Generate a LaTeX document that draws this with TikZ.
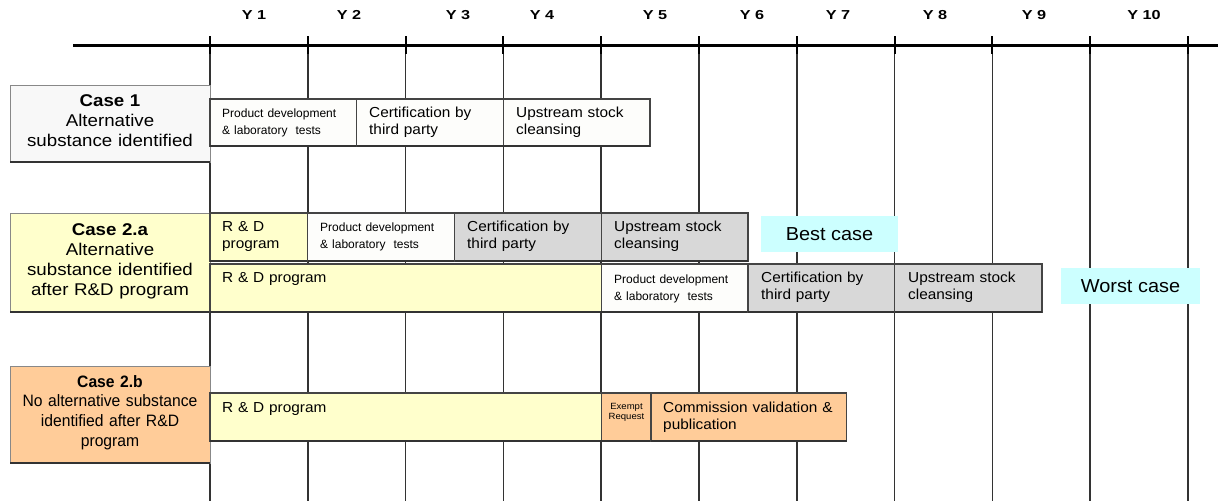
\documentclass[tikz,border=0pt]{standalone}
\usepackage{fontspec}
\setmainfont{Liberation Sans}
\newfontfamily\lblfont{Liberation Sans}[FakeStretch=1.1]
\newfontfamily\lblnarrow{Liberation Sans}[FakeStretch=0.95]
\newfontfamily\yrfont{Liberation Sans}[FakeStretch=1.25]
\newfontfamily\boxfont{Liberation Sans}[FakeStretch=1.06]
\definecolor{gridc}{HTML}{333333}
\definecolor{barc}{HTML}{444444}
\definecolor{shadc}{HTML}{333333}
\definecolor{lblc}{HTML}{888888}
\definecolor{whitec}{HTML}{FDFDFB}
\definecolor{lgreyc}{HTML}{F8F8F8}
\definecolor{greyc}{HTML}{D8D8D8}
\definecolor{ylwc}{HTML}{FFFFCC}
\definecolor{orgc}{HTML}{FFCC99}
\definecolor{cyanc}{HTML}{CCFFFF}
\newcommand\tlbar[5]{%
  \draw[bar,fill=#5] (#1,#2) rectangle (#3,#4);
  \draw[barshadow] (#1,#4) -- (#3,#4);}
\newcommand\tllabel[5]{%
  \draw[lblbox,fill=#5] (#1,#2) rectangle (#3,#4);
  \draw[lblshadow] (#1,#4) -- (#3,#4);}
\begin{document}
\begin{tikzpicture}[x=1pt,y=-1pt,
  gridl/.style={draw=gridc,line width=1.7pt},
  tickl/.style={draw=black,line width=2pt},
  axisl/.style={draw=black,line width=3pt},
  bar/.style={draw=barc,line width=1.3pt},
  barshadow/.style={draw=shadc,line width=2pt},
  lblbox/.style={draw=lblc,line width=0.8pt},
  lblshadow/.style={draw=shadc,line width=2.5pt},
  yrlab/.style={anchor=base,inner sep=0pt,font=\yrfont\bfseries\fontsize{13}{15}\selectfont},
  bigtxt/.style={anchor=base west,inner sep=0pt,align=left,text width=#1,font=\boxfont\fontsize{14.5}{16.5}\selectfont},
  smalltxt/.style={anchor=base west,inner sep=0pt,align=left,text width=#1,font=\fontsize{12}{16.5}\selectfont},
  lbltxt/.style={anchor=base,inner sep=0pt,align=center,text width=200pt,font=\lblfont\fontsize{17}{20}\selectfont},
  lbltxtn/.style={anchor=base,inner sep=0pt,align=center,text width=200pt,font=\lblnarrow\fontsize{16.5}{19.8}\selectfont},
  casebox/.style={fill=cyanc,inner sep=0pt,font=\boxfont\fontsize{18.8}{22}\selectfont}]
\useasboundingbox (0,0) rectangle (1223,501);
\fill[white] (0,0) rectangle (1223,501);
% year labels
\node[yrlab] (y1) at (254,19.5) {Y 1};
\node[yrlab] (y2) at (349,19.5) {Y 2};
\node[yrlab] (y3) at (458,19.5) {Y 3};
\node[yrlab] (y4) at (542,19.5) {Y 4};
\node[yrlab] (y5) at (655,19.5) {Y 5};
\node[yrlab] (y6) at (752,19.5) {Y 6};
\node[yrlab] (y7) at (838,19.5) {Y 7};
\node[yrlab] (y8) at (935,19.5) {Y 8};
\node[yrlab] (y9) at (1034,19.5) {Y 9};
\node[yrlab] (y10) at (1144,19.5) {Y 10};
% grid and axis
\foreach \k in {0,...,10}{
  \draw[gridl] ({210+97.8*\k},45) -- ({210+97.8*\k},501);
}
\draw[axisl] (73,45) -- (1218,45);
\foreach \k in {0,...,10}{
  \draw[tickl] ({210+97.8*\k},36) -- ({210+97.8*\k},54);
}
% Case 1
\tllabel{10}{85}{210}{162}{lgreyc}
\node[lbltxt] (c1) at (110,106.7) {\textbf{Case 1}\\Alternative\\substance identified};
\tlbar{210}{99}{356.7}{146}{whitec}
\tlbar{356.7}{99}{503.4}{146}{whitec}
\tlbar{503.4}{99}{650.1}{146}{whitec}
\node[smalltxt=140pt] (t11) at (222,117.5) {Product development\\\& laboratory~~tests};
\node[bigtxt=140pt] (t12) at (369,117.5) {Certification by\\third party};
\node[bigtxt=140pt] (t13) at (516,117.5) {Upstream stock\\cleansing};
% Case 2.a
\tllabel{10}{213}{210}{312}{ylwc}
\node[lbltxt] (c2a) at (110,235) {\textbf{Case 2.a}\\Alternative\\substance identified\\after R\&D program};
\tlbar{210}{213}{307.8}{261}{ylwc}
\tlbar{307.8}{213}{454.5}{261}{whitec}
\tlbar{454.5}{213}{601.2}{261}{greyc}
\tlbar{601.2}{213}{747.9}{261}{greyc}
\node[bigtxt=90pt] (t21) at (222,231.5) {R \& D\\program};
\node[smalltxt=140pt] (t22) at (320,231.5) {Product development\\\& laboratory~~tests};
\node[bigtxt=140pt] (t23) at (467,231.5) {Certification by\\third party};
\node[bigtxt=140pt] (t24) at (614,231.5) {Upstream stock\\cleansing};
\node[casebox,minimum width=137pt,minimum height=36pt] (best) at (829.5,234) {Best case};
\tlbar{210}{264}{601.2}{312}{ylwc}
\tlbar{601.2}{264}{747.9}{312}{whitec}
\tlbar{747.9}{264}{894.6}{312}{greyc}
\tlbar{894.6}{264}{1042}{312}{greyc}
\node[bigtxt=300pt] (t25) at (222,282.5) {R \& D program};
\node[smalltxt=140pt] (t26) at (614,283.5) {Product development\\\& laboratory~~tests};
\node[bigtxt=140pt] (t27) at (761,282.5) {Certification by\\third party};
\node[bigtxt=140pt] (t28) at (908,282.5) {Upstream stock\\cleansing};
\node[casebox,minimum width=139pt,minimum height=36pt] (worst) at (1130.5,286) {Worst case};
% Case 2.b
\tllabel{10}{366}{210}{463}{orgc}
\node[lbltxtn] (c2b) at (110,387) {\textbf{Case 2.b}\\No alternative substance\\identified after R\&D\\program};
\tlbar{210}{393}{601.2}{441}{ylwc}
\tlbar{601.2}{393}{651}{441}{orgc}
\tlbar{651}{393}{846.5}{441}{orgc}
\node[bigtxt=300pt] (t31) at (222,412) {R \& D program};
\node[anchor=base,inner sep=0pt,align=center,text width=48pt,font=\boxfont\fontsize{9}{10.5}\selectfont] (t32) at (626.5,409) {Exempt\\Request};
\node[bigtxt=190pt] (t33) at (663,412.5) {Commission validation \&\\publication};
\end{tikzpicture}
\end{document}
